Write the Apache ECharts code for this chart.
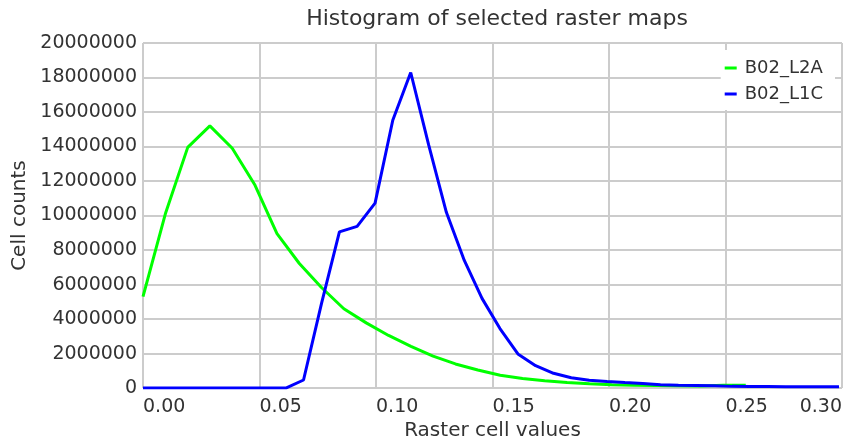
<!DOCTYPE html>
<html>
<head>
<meta charset="utf-8">
<script src="https://cdn.jsdelivr.net/npm/echarts@6/dist/echarts.min.js"></script>
<style>
  html, body { margin: 0; padding: 0; background: #ffffff; }
  #chart { width: 854px; height: 446px; }
</style>
</head>
<body>
<div id="chart"></div>
<script>
// Histogram bins (raster cell value) and cell counts for each map
const l2aValues = [0, 0.0096, 0.0192, 0.0287, 0.0383, 0.0479, 0.0575, 0.0671, 0.0766, 0.0862,
  0.0958, 0.1054, 0.1150, 0.1245, 0.1341, 0.1437, 0.1533, 0.1629, 0.1724, 0.1820,
  0.1916, 0.2012, 0.2108, 0.2203, 0.2299, 0.2395, 0.2491, 0.2587];
const l2aCounts = [5300000, 10100000, 13950000, 15200000, 13900000, 11800000, 8950000, 7220000, 5830000, 4600000,
  3780000, 3050000, 2420000, 1850000, 1400000, 1050000, 740000, 560000, 420000, 320000,
  250000, 200000, 170000, 150000, 130000, 120000, 170000, 160000];

const l1cValues = [0, 0.0077, 0.0153, 0.0230, 0.0306, 0.0383, 0.0460, 0.0536, 0.0613, 0.0689,
  0.0766, 0.0843, 0.0919, 0.0996, 0.1072, 0.1149, 0.1226, 0.1302, 0.1379, 0.1455,
  0.1532, 0.1609, 0.1685, 0.1762, 0.1838, 0.1915, 0.1992, 0.2068, 0.2145, 0.2221,
  0.2298, 0.2375, 0.2451, 0.2528, 0.2604, 0.2681, 0.2758, 0.2834, 0.2911, 0.2987];
const l1cCounts = [0, 0, 0, 0, 0, 0, 0, 0, 0, 470000,
  4900000, 9050000, 9370000, 10720000, 15520000, 18290000, 14090000, 10190000, 7400000, 5200000,
  3450000, 1980000, 1300000, 860000, 600000, 450000, 380000, 320000, 270000, 200000,
  170000, 150000, 130000, 100000, 90000, 90000, 85000, 80000, 80000, 80000];

const seriesNames = ['B02_L2A', 'B02_L1C'];
const seriesColors = ['#00ff00', '#0000ff'];
const xTicks = { min: 0, max: 0.30, step: 0.05 };
const yTicks = { min: 0, max: 20000000, step: 2000000 };

const pairs = (xs, ys) => xs.map((x, i) => [x, ys[i]]);

const FONT = 'DejaVu Sans';
const TEXT = '#333333';
const GRIDLINE = '#cccccc';

const chart = echarts.init(document.getElementById('chart'), null, { renderer: 'canvas' });

chart.setOption({
  animation: false,
  backgroundColor: '#ffffff',
  textStyle: { fontFamily: FONT, color: TEXT },
  title: {
    text: 'Histogram of selected raster maps',
    left: 492,
    textAlign: 'center',
    top: 3,
    textStyle: { fontFamily: FONT, fontSize: 22, fontWeight: 'normal', color: TEXT }
  },
  legend: {
    data: seriesNames,
    orient: 'vertical',
    right: 19,
    top: 50,
    backgroundColor: '#ffffff',
    padding: [9, 12, 7, 4],
    itemGap: 8,
    itemWidth: 12,
    itemHeight: 3,
    icon: 'rect',
    textStyle: { fontFamily: FONT, fontSize: 18, color: TEXT, padding: [0, 0, 0, 3] }
  },
  grid: { left: 143, right: 12, top: 43, bottom: 53, containLabel: false },
  xAxis: {
    type: 'value',
    min: xTicks.min,
    max: xTicks.max,
    interval: xTicks.step,
    name: 'Raster cell values',
    nameLocation: 'middle',
    nameGap: 30,
    nameTextStyle: { fontFamily: FONT, fontSize: 20, color: TEXT },
    axisLine: { show: false },
    axisTick: { show: false },
    axisLabel: {
      fontFamily: FONT, fontSize: 19, color: TEXT, margin: 9,
      align: 'left', alignMaxLabel: 'right',
      formatter: v => v.toFixed(2)
    },
    splitLine: { show: true, lineStyle: { color: GRIDLINE, width: 2 } }
  },
  yAxis: {
    type: 'value',
    min: yTicks.min,
    max: yTicks.max,
    interval: yTicks.step,
    name: 'Cell counts',
    nameLocation: 'middle',
    nameGap: 112,
    nameTextStyle: { fontFamily: FONT, fontSize: 20, color: TEXT },
    axisLine: { show: false },
    axisTick: { show: false },
    axisLabel: {
      fontFamily: FONT, fontSize: 19, color: TEXT, margin: 6,
      verticalAlign: 'middle', padding: [0, 0, 10, 0],
      formatter: v => String(v)
    },
    splitLine: { show: true, lineStyle: { color: GRIDLINE, width: 2 } }
  },
  series: [
    {
      name: seriesNames[0], type: 'line', data: pairs(l2aValues, l2aCounts),
      showSymbol: false, symbol: 'none', color: seriesColors[0],
      lineStyle: { color: seriesColors[0], width: 3 }, z: 2
    },
    {
      name: seriesNames[1], type: 'line', data: pairs(l1cValues, l1cCounts),
      showSymbol: false, symbol: 'none', color: seriesColors[1],
      lineStyle: { color: seriesColors[1], width: 3 }, z: 3
    }
  ]
});
</script>
</body>
</html>
